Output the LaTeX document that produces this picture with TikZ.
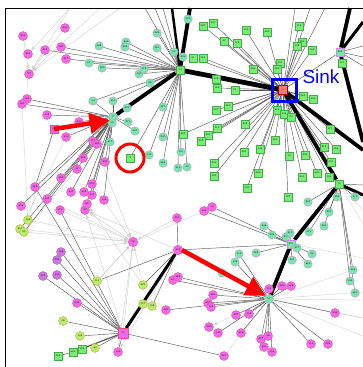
\documentclass[tikz,border=0pt]{standalone}
\usepackage{fontspec}
\usepackage{tikz}
\usetikzlibrary{arrows.meta, positioning, backgrounds}
\newfontfamily\sinkfont{Liberation Sans}
\newcommand{\tinylab}{\fontsize{2.4}{2.4}\selectfont}
\definecolor{gfill}{RGB}{120,236,120}
\definecolor{gline}{RGB}{70,170,70}
\definecolor{mfill}{RGB}{118,232,165}
\definecolor{mline}{RGB}{200,140,235}
\definecolor{pfill}{RGB}{242,104,232}
\definecolor{pline}{RGB}{232,80,140}
\definecolor{yfill}{RGB}{178,240,104}
\definecolor{yline}{RGB}{232,150,80}
\definecolor{vfill}{RGB}{215,110,235}
\definecolor{sfill}{RGB}{242,122,122}
\tikzstyle{gsq} = [rectangle, draw=gline, fill=gfill, minimum size=7.5pt, inner sep=0pt, font=\tinylab]
\tikzstyle{mnt} = [circle, draw=mline, fill=mfill, minimum size=8.5pt, inner sep=0pt, font=\tinylab]
\tikzstyle{mag} = [circle, draw=pline, fill=pfill, minimum size=9pt, inner sep=0pt, font=\tinylab]
\tikzstyle{vio} = [circle, draw=gray, fill=vfill, minimum size=9pt, inner sep=0pt, font=\tinylab]
\tikzstyle{ylw} = [circle, draw=yline, fill=yfill, minimum size=9pt, inner sep=0pt, font=\tinylab]
\tikzstyle{link} = [black!65, line width=0.45pt]
\tikzstyle{faint} = [black!16, line width=0.45pt]
\tikzstyle{faintarrow} = [black!18, line width=0.45pt, -{Latex[length=4pt,width=3.5pt]}]
\tikzstyle{heavy} = [black, line width=3.8pt]
\tikzstyle{mark-arrow} = [red, line width=4.5pt, -{Triangle[length=20pt,width=20pt]}]

\begin{document}
\begin{tikzpicture}[x=1pt,y=-1pt]
        \useasboundingbox (0,0) rectangle (363,367);
        \draw[black, line width=1pt] (363,8) -- (5,8) -- (5,367);

        % hubs
        \node [rectangle, draw=red!70!black, fill=sfill, minimum size=9pt, inner sep=0pt, font=\tinylab] (sink) at (283,90) {0};
        \node [gsq, minimum size=8.5pt] (hA) at (180,70) {14};
        \node [mnt, minimum size=9pt] (hB) at (113,117) {7};
        \node [gsq, minimum size=8.5pt] (hC) at (339,184) {72};
        \node [rectangle, draw=mline, fill=mfill, minimum size=8.5pt, inner sep=0pt, font=\tinylab] (hD) at (291,244) {351};
        \node [mnt, minimum size=9pt] (hE) at (269,299) {57};
        \node [mag, minimum size=9.5pt] (hF) at (178,250) {412};
        \node [rectangle, draw=pline, fill=pfill, minimum size=9.5pt, inner sep=0pt, font=\tinylab] (hG) at (123,333) {73};
        \node [mag, minimum size=9.5pt] (hH) at (133,242) {78};
        \node [rectangle, draw=mline, fill=mfill, minimum size=8.5pt, inner sep=0pt, font=\tinylab] (hT) at (340,52) {382};

        % leaves of the sink
        \foreach \n/\x/\y/\t in {s1/203/26/237, s2/213/23/401, s3/246/30/159, s4/267/32/463, s5/299/26/178,
            s6/224/41/41, s7/237/43/172, s8/302/42/224, s9/297/46/158, s10/312/50/162,
            s11/193/58/31, s12/203/58/264, s13/280/63/301, s14/277/69/289, s15/253/69/282,
            s16/216/79/208, s17/217/88/182, s18/235/90/91, s19/303/96/265, s20/313/99/456,
            s21/228/106/262, s22/216/110/167, s23/277/110/205, s24/284/114/431, s25/291/117/23,
            s26/217/128/315, s27/208/135/254, s28/201/141/237, s29/245/124/323, s30/183/134/467,
            s31/275/140/369, s32/260/149/346, s33/244/152/401, s34/289/156/19, s35/305/155/203,
            s36/330/129/271, s37/324/147/213, s38/336/149/456, s39/331/162/331, s40/214/163/294,
            s41/214/176/392, s42/258/173/486, s43/302/177/461, s44/317/173/435, s45/329/177/136,
            s46/247/188/330, s47/288/197/127, s48/342/63/111, s49/130/158/3}
            \node [gsq] (\n) at (\x,\y) {\t};

        % leaves of hub A and hub B
        \foreach \n/\x/\y/\t in {a1/157/33/289, a2/99/46/438, a3/126/42/406, a4/157/48/281, a5/89/63/61,
            a6/102/68/220, a7/139/74/190, a8/144/69/112, a9/150/83/88, a10/174/52/60,
            a11/188/19/399, a12/183/57/236, a13/125/47/385,
            b1/93/101/54, b2/113/101/450, b3/127/108/485, b4/112/123/55, b5/128/122/370,
            b6/135/131/261, b7/110/142/417, b8/163/107/270, b9/163/137/230, b10/149/155/135,
            b11/163/163/266, b12/178/168/214, b13/181/152/82, b14/187/167/32}
            \node [mnt] (\n) at (\x,\y) {\t};
        \foreach \n/\x/\y/\t in {p1/23/36/201, p2/65/28/356, p3/28/54/413, p4/45/50/214, p5/61/47/187,
            p6/66/59/217, p7/29/74/77, p8/27/99/165, p9/22/104/341, p10/47/115/102,
            p11/79/122/240, p12/66/137/220, p13/93/141/176, p14/97/144/489, p15/83/158/283,
            p16/77/169/47, p17/105/162/226, p18/61/178/309, p19/35/187/483, p20/71/192/247,
            p21/92/184/451, p22/84/192/359, p23/92/195/347, p24/47/199/407, p25/21/206/353,
            p26/60/210/375, p27/85/210/29, p28/87/204/86, p29/104/200/143}
            \node [mag] (\n) at (\x,\y) {\t};
        \node [rectangle, draw=pline, fill=pfill, minimum size=8.5pt, inner sep=0pt, font=\tinylab] (psq) at (54,129) {81};

        % leaves of hubs C, D and E
        \foreach \n/\x/\y/\t in {d1/308/202/297, d2/337/197/453, d3/355/197/170, d4/329/212/491, d5/264/226/344,
            d6/272/235/302, d7/286/237/231, d8/290/233/415, d9/309/232/375, d10/324/226/281,
            d11/297/248/277, d12/256/253/462, d13/239/254/118, d14/235/262/146, d15/222/273/313,
            d16/312/254/96, d17/292/260/497, d18/308/264/485, d19/353/270/336, d20/350/281/399,
            d21/355/293/480}
            \node [mnt] (\n) at (\x,\y) {\t};
        \foreach \n/\x/\y/\t in {e1/269/289/255, e2/282/286/223, e3/291/286/326, e4/213/295/460, e5/208/303/457,
            e6/211/307/149, e7/236/315/427, e8/249/314/452, e9/335/313/293, e10/209/327/223,
            e11/218/333/140, e12/241/333/326, e13/261/339/277, e14/268/336/26, e15/264/347/394,
            e16/272/352/191, e17/311/344/114, e18/328/344/322, e19/224/356/367, e20/212/207/14,
            e21/204/211/128, f1/177/218/454, f2/173/280/126, f3/178/277/483, f4/166/310/482,
            q1/118/352/193, q2/77/303/206}
            \node [mag] (\n) at (\x,\y) {\t};
        \foreach \n/\x/\y/\t in {v1/61/252/198, v2/57/260/224, v3/43/276/373, v4/57/275/440}
            \node [vio] (\n) at (\x,\y) {\t};
        \foreach \n/\x/\y/\t in {y1/28/220/393, y2/20/229/252, y3/24/232/95, y4/97/281/115, y5/143/285/425,
            y6/143/304/357, y7/152/306/138, y8/63/321/38, y9/80/336/124, y10/95/348/40}
            \node [ylw] (\n) at (\x,\y) {\t};
        \foreach \n/\x/\y/\t in {g1/82/349/398, g2/73/352/469, g3/58/356/469}
            \node [gsq] (\n) at (\x,\y) {\t};

        % free ends at the border
        \foreach \n/\x/\y in {t1/70/8, t2/100/8, t3/120/8, t4/295/8, t5/310/8, t6/325/8, t7/145/8,
            t8/155/8, t9/163/8, t10/190/8, t11/172/8, t12/350/8,
            r1/363/292, r2/363/300, r3/363/318, r4/363/336, r5/363/210, r6/363/224, r7/363/46,
            r8/363/57, r9/363/66, r10/363/150, r11/363/142, r12/363/22, r13/363/195, r14/363/185,
            r15/363/258}
            \coordinate (\n) at (\x,\y);

        \begin{scope}[on background layer]
            % light grey links
            \foreach \a/\b in {y1/hH, y2/hH, y3/hH, p26/hH, p24/hH, v1/hH, hG/hH, f1/hH, y5/hH, p21/hH,
                hH/p27, hG/p27, hF/p27, y5/p28, hH/q1, hF/q1, t1/p7, t2/p7, t3/p7, p2/p7, t1/p3, p1/p7,
                y4/hH, hE/e10, q2/hH, p13/hH}
                \draw [faintarrow] (\a) -- (\b);
            \foreach \a/\b in {hE/r1, hE/r2, hE/r3, hE/r4, hC/r5, hC/r6, hE/e19, p9/y1, p12/y2, p16/y3,
                psq/y1, p3/p8, hD/r15, hE/d19, e9/r3, hH/e21, p1/p3, p4/p7}
                \draw [faint] (\a) -- (\b);

            % dark links
            \foreach \i in {1,...,47}
                \draw [link] (sink) -- (s\i);
            \foreach \b in {t4, t5, t6, hT}
                \draw [link] (sink) -- (\b);
            \foreach \b in {a1, a2, a3, a4, a5, a6, a7, a8, a9, a10, a11, a12, a13, b8, b9, b10, b11, b12,
                b13, b14, p4, p5, p6, s49, t7, t8, t9, b1, b2}
                \draw [link] (hA) -- (\b);
            \foreach \b in {b1, b2, b3, b4, b5, b6, b7, p8, p9, p10, p11, psq, p12, p13, p14, p15, p16, p17,
                p18, p19, p20, p21, p22, p23, p24, p25, p28, p29, y2, y3}
                \draw [link] (hB) -- (\b);
            \foreach \b in {s48, r7, r8, r9}
                \draw [link] (hT) -- (\b);
            \foreach \b in {d1, d2, d3, d4, d9, d10, d19, d20, d21, r14}
                \draw [link] (hC) -- (\b);
            \foreach \b in {d5, d6, d7, d8, d11, d12, d16, d17, d18, e20, e21, hF}
                \draw [link] (hD) -- (\b);
            \foreach \b in {e1, e2, e3, e4, e5, e6, e7, e8, e9, e11, e12, e13, e14, e15, e16, e17, e18,
                f2, f3, f4, d13, d14, d15}
                \draw [link] (hE) -- (\b);
            \foreach \b in {v1, v2, v3, v4, q2, y8, y9, y10, q1, e19, p19, p26}
                \draw [link] (hG) -- (\b);
            \foreach \b in {f1, y4, y5, y6, y7}
                \draw [link] (hF) -- (\b);
            \draw [link] (g3) -- (g2);
            \draw [link, line width=1.2pt] (g2) -- (hG);
            \draw [link] (psq) -- (p19);

            % heavy links
            \draw [heavy, line width=4.8pt] (sink) -- (hA);
            \draw [heavy] (hA) -- (hB);
            \draw [heavy] (hA) -- (t10);
            \draw [heavy, line width=2.5pt] (hA) -- (t11);
            \draw [heavy] (sink) -- (hC);
            \draw [heavy] (sink) -- (r10);
            \draw [heavy] (hT) -- (t12);
            \draw [heavy] (hT) -- (r11);
            \draw [heavy, line width=3pt] (hT) -- (r12);
            \draw [heavy] (hC) -- (hD);
            \draw [heavy, line width=3pt] (hC) -- (r13);
            \draw [heavy] (hD) -- (hE);
            \draw [heavy, line width=3pt] (hF) -- (hG);
        \end{scope}

        % marks
        \draw [blue, line width=3pt] (272,79) rectangle (296,101);
        \node [blue, font=\sinkfont\fontsize{19}{19}\selectfont, anchor=base west] (sinklabel) at (299,83) {Sink};
        \coordinate (arrowstart1) at (54,129);
        \coordinate (arrowstart2) at (182,250);
        \draw [mark-arrow] (arrowstart1) -- (hB.south west);
        \draw [mark-arrow] (arrowstart2) -- (hE.north west);
        \draw [red, line width=3pt] (s49) circle (14);
\end{tikzpicture}
\end{document}
